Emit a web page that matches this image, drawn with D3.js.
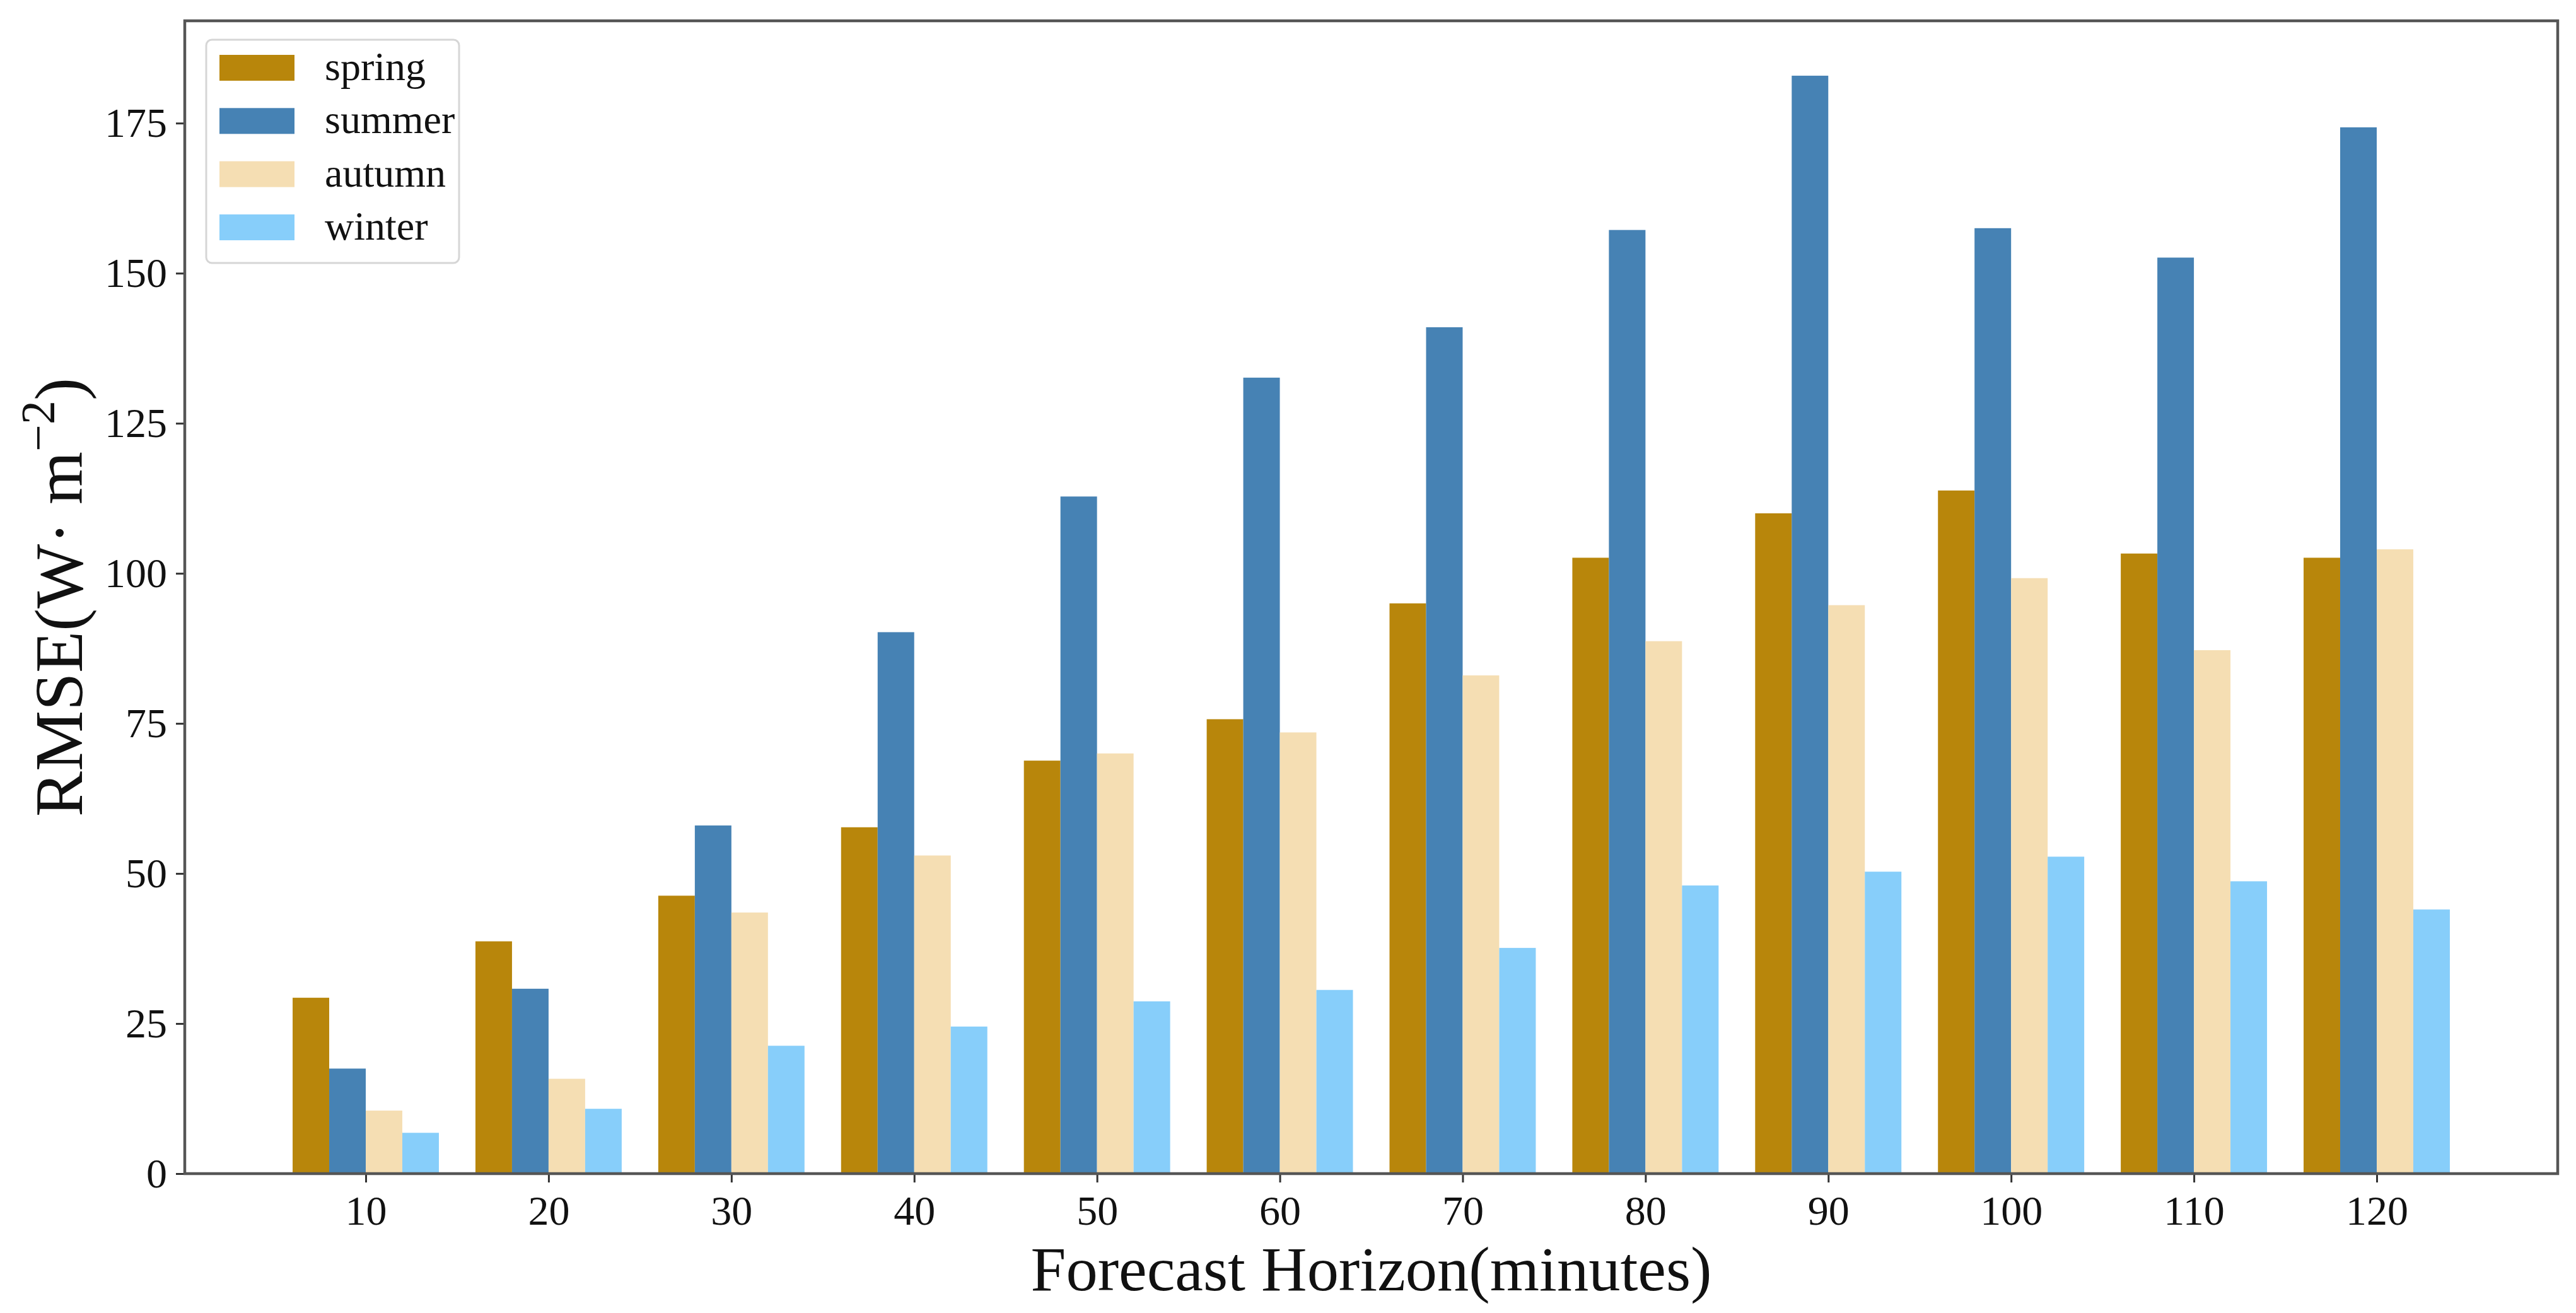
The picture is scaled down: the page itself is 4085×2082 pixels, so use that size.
<!DOCTYPE html>
<html>
<head>
<meta charset="utf-8">
<script src="https://cdn.jsdelivr.net/npm/d3@7"></script>
<style>
  html, body { margin: 0; padding: 0; background: #ffffff; }
  svg { display: block; }
  text { font-family: "Liberation Serif", "DejaVu Serif", serif; fill: #111; }
</style>
</head>
<body>
<svg id="chart" width="4085" height="2082"></svg>
<script>
// ---- data ----
const categories = ["10", "20", "30", "40", "50", "60", "70", "80", "90", "100", "110", "120"];
const seriesNames = ["spring", "summer", "autumn", "winter"];
const spring = [29.3, 38.7, 46.3, 57.7, 68.8, 75.7, 95.0, 102.6, 110.0, 113.8, 103.3, 102.6];
const summer = [17.5, 30.8, 58.0, 90.2, 112.8, 132.6, 141.0, 157.2, 182.9, 157.5, 152.6, 174.3];
const autumn = [10.5, 15.8, 43.5, 53.0, 70.0, 73.5, 83.0, 88.7, 94.7, 99.2, 87.2, 104.0];
const winter = [6.8, 10.8, 21.3, 24.5, 28.7, 30.6, 37.6, 48.0, 50.3, 52.8, 48.7, 44.0];
const yTicks = [0, 25, 50, 75, 100, 125, 150, 175];
const colors = ["#B8860B", "#4682B4", "#F5DEB3", "#87CEFA"];
const xLabel = "Forecast Horizon(minutes)";

const seriesValues = [spring, summer, autumn, winter];

// ---- layout ----
const svg = d3.select("#chart");
const L = 293, R = 4056, T = 33, B = 1861;
const barW = 0.2;
const n = categories.length;
const xMin = -2 * barW, xMax = (n - 1) + 2 * barW;
const xPad = (xMax - xMin) * 0.05;
const x = d3.scaleLinear().domain([xMin - xPad, xMax + xPad]).range([L, R]);
const yMaxData = d3.max(seriesValues.flat());
const y = d3.scaleLinear().domain([0, yMaxData * 1.05]).range([B, T]);

// bars
const g = svg.append("g");
seriesValues.forEach((vals, s) => {
  g.selectAll(null).data(vals).enter().append("rect")
    .attr("x", (d, i) => x(i + (s - 2) * barW))
    .attr("width", (d, i) => x(i + (s - 1) * barW) - x(i + (s - 2) * barW))
    .attr("y", d => y(d))
    .attr("height", d => y(0) - y(d))
    .attr("fill", colors[s]);
});

// axes
const xAxis = d3.axisBottom(x)
  .tickValues(d3.range(n))
  .tickFormat(i => categories[i])
  .tickSize(14).tickPadding(20);
const yAxis = d3.axisLeft(y)
  .tickValues(yTicks)
  .tickSize(14).tickPadding(14);

const gx = svg.append("g").attr("transform", `translate(0,${B})`).call(xAxis);
const gy = svg.append("g").attr("transform", `translate(${L},0)`).call(yAxis);
[gx, gy].forEach(a => {
  a.select(".domain").remove();
  a.selectAll(".tick line").attr("stroke", "#333").attr("stroke-width", 3);
  a.selectAll(".tick text")
    .attr("font-family", "'Liberation Serif', serif")
    .attr("font-size", 66)
    .attr("fill", "#111");
});

// frame
svg.append("rect")
  .attr("x", L).attr("y", T)
  .attr("width", R - L).attr("height", B - T)
  .attr("fill", "none").attr("stroke", "#555").attr("stroke-width", 4.5);

// axis labels
svg.append("text")
  .attr("x", (L + R) / 2).attr("y", 2046)
  .attr("text-anchor", "middle")
  .attr("font-size", 100)
  .attr("textLength", 1080)
  .attr("lengthAdjust", "spacingAndGlyphs")
  .text(xLabel);

const yl = svg.append("text")
  .attr("transform", `translate(130,${(T + B) / 2}) rotate(-90)`)
  .attr("text-anchor", "middle")
  .attr("font-size", 108);
yl.append("tspan").text("RMSE(W· m");
yl.append("tspan").attr("font-size", 76).attr("dy", -44).text("−2");
yl.append("tspan").attr("dy", 44).text(")");

// legend
const lg = svg.append("g");
lg.append("rect")
  .attr("x", 327).attr("y", 63).attr("width", 401).attr("height", 354)
  .attr("rx", 9).attr("ry", 9)
  .attr("fill", "#ffffff").attr("fill-opacity", 0.85)
  .attr("stroke", "#d6d6d6").attr("stroke-width", 3);
const rowY = d3.scaleLinear().domain([0, 3]).range([107, 360]);
seriesNames.forEach((name, s) => {
  lg.append("rect")
    .attr("x", 348).attr("y", rowY(s) - 20)
    .attr("width", 119).attr("height", 41)
    .attr("fill", colors[s]);
  lg.append("text")
    .attr("x", 515).attr("y", rowY(s) + 20)
    .attr("font-size", 64)
    .text(name);
});
</script>
</body>
</html>
